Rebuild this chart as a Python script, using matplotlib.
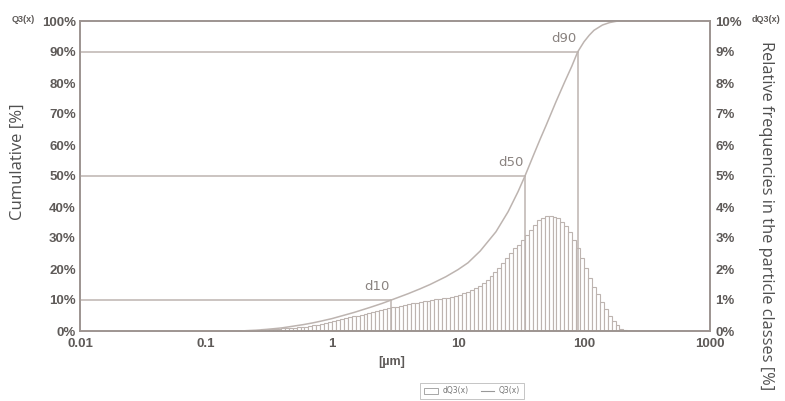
import matplotlib
matplotlib.use("Agg")
import matplotlib.pyplot as plt
from matplotlib.lines import Line2D
from matplotlib.patches import Patch
import numpy as np

# particle classes: 32 per decade, 0.178 um .. 237 um
class_edges = np.logspace(-0.75, 2.375, 101)

# dQ3(x) relative frequency per class [%]
dq3 = [
    0.00, 0.01, 0.02, 0.03, 0.03, 0.04, 0.05, 0.06, 0.07, 0.07,
    0.08, 0.09, 0.10, 0.10, 0.11, 0.12, 0.13, 0.14, 0.16, 0.18,
    0.20, 0.23, 0.26, 0.29, 0.32, 0.35, 0.38, 0.41, 0.44, 0.47,
    0.50, 0.52, 0.56, 0.59, 0.62, 0.65, 0.68, 0.71, 0.73, 0.76,
    0.79, 0.82, 0.84, 0.87, 0.89, 0.91, 0.94, 0.96, 0.98, 1.00,
    1.02, 1.04, 1.06, 1.08, 1.10, 1.13, 1.17, 1.21, 1.25, 1.31,
    1.38, 1.46, 1.55, 1.65, 1.77, 1.89, 2.03, 2.19, 2.35, 2.51,
    2.67, 2.79, 2.95, 3.11, 3.27, 3.43, 3.57, 3.66, 3.71, 3.72,
    3.69, 3.63, 3.52, 3.38, 3.18, 2.93, 2.67, 2.35, 2.03, 1.71,
    1.42, 1.20, 0.95, 0.72, 0.50, 0.33, 0.20, 0.08, 0.04, 0.01,
]

# Q3(x) cumulative curve [%]
q3_size = [0.01, 0.18, 0.2, 0.25, 0.3, 0.4, 0.5, 0.6, 0.7, 0.8, 1.0, 1.2, 1.5,
           2.0, 2.5, 3.0, 4.0, 5.0, 6.0, 8.0, 10, 12, 15, 20, 25, 30, 34, 40,
           45, 50, 60, 70, 80, 89, 100, 110, 120, 140, 160, 180, 200, 1000]
q3_value = [0, 0, 0.05, 0.25, 0.5, 1.0, 1.6, 2.1, 2.6, 3.1, 4.0, 4.9, 6.0,
            7.6, 8.9, 10.1, 12.0, 13.6, 15.0, 17.5, 19.8, 22.0, 25.8, 32.0, 38.5, 45.0, 50.0, 57.0,
            62.0, 66.3, 74.0, 80.2, 85.4, 90.0, 93.3, 95.4, 97.0, 98.7, 99.5, 99.9, 100, 100]

# characteristic diameters
d_names = ["d10", "d50", "d90"]
d_size = [2.95, 34.0, 89.0]
d_value = [10, 50, 90]

x_ticks = [0.01, 0.1, 1, 10, 100, 1000]
x_tick_labels = ["0.01", "0.1", "1", "10", "100", "1000"]

line_col = "#bdb4b0"
spine_col = "#9d9490"
tick_col = "#5e5a58"
label_col = "#4f4f4f"

fig = plt.figure(figsize=(7.85, 4.01), dpi=100)
ax = fig.add_axes([80 / 785, 1 - 331 / 401, 630 / 785, 310 / 401])
ax2 = ax.twinx()

widths = np.diff(class_edges)
ax2.bar(class_edges[:-1], dq3, width=widths, align="edge",
        facecolor="white", edgecolor=line_col, linewidth=0.8)
ax2.set_ylim(0, 10)

ax.set_zorder(ax2.get_zorder() + 1)
ax.patch.set_visible(False)

ax.plot(q3_size, q3_value, color=line_col, linewidth=1.1)
for name, d, v in zip(d_names, d_size, d_value):
    ax.plot([0.01, d], [v, v], color=line_col, linewidth=1.1)
    ax.plot([d, d], [0, v], color=line_col, linewidth=1.1)
    ax.text(d / 1.03, v + 2.2, name, ha="right", va="bottom",
            fontsize=9.5, color="#8a8380", family="DejaVu Sans")

ax.set_xscale("log")
ax.set_xlim(0.01, 1000)
ax.set_ylim(0, 100)
ax.set_xticks(x_ticks)
ax.set_xticklabels(x_tick_labels)
ax.minorticks_off()
ax.set_yticks(range(0, 101, 10))
ax.set_yticklabels([f"{v}%" for v in range(0, 101, 10)])
ax2.set_yticks(range(0, 11))
ax2.set_yticklabels([f"{v}%" for v in range(0, 11)])

for a in (ax, ax2):
    a.tick_params(length=0, colors=tick_col, labelsize=9.5)
    for lab in a.get_xticklabels() + a.get_yticklabels():
        lab.set_fontweight("bold")
        lab.set_family("Liberation Sans")
    for s in a.spines.values():
        s.set_color(spine_col)
        s.set_linewidth(1.2)
ax.tick_params(axis="y", pad=3)
ax.tick_params(axis="x", pad=5)
ax2.tick_params(axis="y", pad=4)

fig.text(23 / 785, 1 - 19 / 401, "Q3(x)", fontsize=6.5, fontweight="bold",
         color=tick_col, ha="center", va="center", family="Liberation Sans")
fig.text(766 / 785, 1 - 19 / 401, "dQ3(x)", fontsize=6.5, fontweight="bold",
         color=tick_col, ha="center", va="center", family="Liberation Sans")

fig.text(18 / 785, 1 - 162 / 401, "Cumulative [%]", rotation=90, fontsize=12,
         color=label_col, ha="center", va="center", family="Open Sans")
fig.text(766 / 785, 1 - 216 / 401, "Relative frequencies in the particle classes [%]",
         rotation=270, fontsize=11.8, color=label_col, ha="center", va="center",
         family="Open Sans")
fig.text(392 / 785, 1 - 362 / 401, "[µm]", fontsize=9, fontweight="bold",
         color=tick_col, ha="center", va="center", family="Liberation Sans")

handles = [Patch(facecolor="white", edgecolor="#999999", linewidth=0.6, label="dQ3(x)"),
           Line2D([0], [0], color="#999999", linewidth=0.8, label="Q3(x)")]
leg = fig.legend(handles=handles, loc="center", bbox_to_anchor=(472 / 785, 1 - 391 / 401),
                 ncol=2, fontsize=5.5, frameon=True, fancybox=False,
                 handlelength=1.8, handleheight=0.9, columnspacing=1.6,
                 borderpad=0.45, handletextpad=0.6)
leg.get_frame().set_edgecolor("#aaaaaa")
leg.get_frame().set_linewidth(0.6)
for t in leg.get_texts():
    t.set_color("#777777")

fig.savefig("out.png", dpi=100)
